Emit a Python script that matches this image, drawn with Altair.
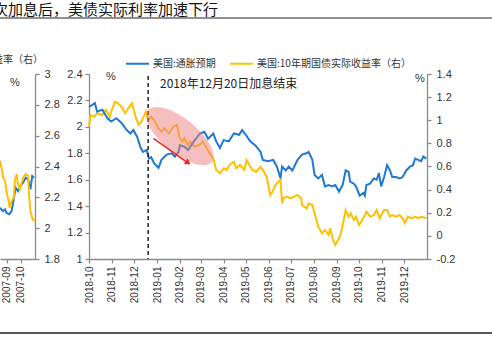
import altair as alt
import pandas as pd

# ---------------- data ----------------
blue_dates = ["2018-10-01","2018-10-09","2018-10-12","2018-10-19","2018-10-26","2018-10-31",
              "2018-11-07","2018-11-14","2018-11-21","2018-11-26","2018-11-30","2018-12-05",
              "2018-12-10","2018-12-13","2018-12-18","2018-12-21","2018-12-24","2018-12-28",
              "2019-01-03","2019-01-07","2019-01-14","2019-01-21","2019-01-25","2019-01-30",
              "2019-02-01","2019-02-07","2019-02-12","2019-02-21","2019-02-28","2019-03-06",
              "2019-03-11","2019-03-18","2019-03-22","2019-03-27","2019-04-01","2019-04-08",
              "2019-04-15","2019-04-22","2019-04-26","2019-05-01","2019-05-07","2019-05-14",
              "2019-05-21","2019-05-24","2019-05-31","2019-06-07","2019-06-12","2019-06-17",
              "2019-06-19","2019-06-24","2019-06-28","2019-07-03","2019-07-10","2019-07-16",
              "2019-07-22","2019-07-25","2019-07-30","2019-08-02","2019-08-07","2019-08-12",
              "2019-08-16","2019-08-21","2019-08-26","2019-08-30","2019-09-04","2019-09-09",
              "2019-09-13","2019-09-17","2019-09-19","2019-09-24","2019-09-27","2019-10-02",
              "2019-10-07","2019-10-09","2019-10-11","2019-10-16","2019-10-21","2019-10-25",
              "2019-10-28","2019-10-31","2019-11-04","2019-11-08","2019-11-12","2019-11-15",
              "2019-11-20","2019-11-25","2019-11-29","2019-12-04","2019-12-09","2019-12-13",
              "2019-12-16","2019-12-20","2019-12-24","2019-12-27","2019-12-31"]
blue_vals = [2.15,2.18,2.115,2.13,2.065,2.04,
             2.065,2.03,1.976,1.95,1.976,1.925,
             1.84,1.81,1.825,1.76,1.77,1.725,
             1.69,1.75,1.79,1.80,1.775,1.81,
             1.86,1.85,1.825,1.90,1.95,1.963,
             1.91,1.95,1.89,1.84,1.90,1.89,
             1.95,1.94,1.976,1.94,1.89,1.86,
             1.81,1.75,1.74,1.75,1.70,1.61,
             1.70,1.67,1.70,1.67,1.75,1.79,
             1.80,1.81,1.75,1.636,1.61,1.636,
             1.55,1.56,1.55,1.56,1.51,1.56,
             1.67,1.66,1.585,1.57,1.55,1.48,
             1.50,1.48,1.56,1.57,1.61,1.60,
             1.65,1.55,1.62,1.71,1.67,1.62,
             1.62,1.61,1.62,1.67,1.70,1.71,
             1.76,1.75,1.74,1.775,1.76]

gold_dates = ["2018-10-01","2018-10-03","2018-10-08","2018-10-12","2018-10-19","2018-10-24",
              "2018-10-29","2018-10-31","2018-11-05","2018-11-09","2018-11-14","2018-11-19",
              "2018-11-23","2018-11-28","2018-12-03","2018-12-07","2018-12-11","2018-12-17",
              "2018-12-20","2018-12-24","2018-12-28","2019-01-03","2019-01-07","2019-01-11",
              "2019-01-17","2019-01-23","2019-01-28","2019-01-31","2019-02-04","2019-02-07",
              "2019-02-12","2019-02-15","2019-02-21","2019-02-28","2019-03-04","2019-03-08",
              "2019-03-13","2019-03-18","2019-03-22","2019-03-27","2019-04-01","2019-04-05",
              "2019-04-09","2019-04-15","2019-04-18","2019-04-23","2019-04-29","2019-05-02",
              "2019-05-07","2019-05-10","2019-05-15","2019-05-21","2019-05-24","2019-05-29",
              "2019-06-03","2019-06-06","2019-06-10","2019-06-14","2019-06-17","2019-06-19",
              "2019-06-21","2019-06-25","2019-07-01","2019-07-05","2019-07-10","2019-07-15",
              "2019-07-16","2019-07-22","2019-07-25","2019-07-30","2019-08-02","2019-08-07",
              "2019-08-12","2019-08-16","2019-08-21","2019-08-23","2019-08-27","2019-08-30",
              "2019-09-04","2019-09-06","2019-09-10","2019-09-13","2019-09-17","2019-09-20",
              "2019-09-24","2019-09-27","2019-10-01","2019-10-04","2019-10-09","2019-10-11",
              "2019-10-16","2019-10-21","2019-10-25","2019-10-29","2019-11-04","2019-11-08",
              "2019-11-12","2019-11-15","2019-11-20","2019-11-25","2019-11-29","2019-12-02",
              "2019-12-06","2019-12-11","2019-12-16","2019-12-20","2019-12-24","2019-12-31"]
gold_vals = [0.944,1.045,1.03,1.06,1.045,1.089,
             1.03,1.074,1.16,1.147,1.117,1.06,
             1.103,1.147,1.03,0.96,0.99,1.074,
             1.002,1.03,1.002,0.93,0.90,0.93,
             0.887,0.944,0.96,0.858,0.815,0.844,
             0.786,0.815,0.771,0.79,0.815,0.771,
             0.714,0.671,0.57,0.541,0.584,0.57,
             0.613,0.641,0.584,0.613,0.57,0.656,
             0.598,0.57,0.555,0.598,0.57,0.512,
             0.353,0.382,0.44,0.468,0.483,0.28,
             0.325,0.339,0.325,0.339,0.353,0.325,
             0.267,0.238,0.28,0.267,0.195,0.08,
             0.022,0.05,0.008,0.065,-0.036,-0.079,
             -0.021,0.008,0.123,0.224,0.166,0.195,
             0.137,0.166,0.094,0.123,0.18,0.209,
             0.166,0.18,0.224,0.152,0.224,0.224,
             0.166,0.18,0.166,0.18,0.152,0.109,
             0.166,0.152,0.166,0.152,0.166,0.152]

prev_blue_dates = ["2007-08-17","2007-08-23","2007-08-28","2007-08-31","2007-09-06","2007-09-11",
                   "2007-09-14","2007-09-20","2007-09-25","2007-09-30","2007-10-06","2007-10-12",
                   "2007-10-17","2007-10-22","2007-10-26","2007-10-30"]
prev_blue_vals = [2.133,2.11,2.122,2.10,2.09,2.11,
                  2.155,2.263,2.24,2.274,2.295,2.327,
                  2.317,2.252,2.338,2.327]
prev_gold_dates = ["2007-08-17","2007-08-21","2007-08-24","2007-08-28","2007-08-31","2007-09-04",
                   "2007-09-07","2007-09-11","2007-09-16","2007-09-18","2007-09-22","2007-09-25",
                   "2007-09-29","2007-10-03","2007-10-08","2007-10-12","2007-10-17","2007-10-19",
                   "2007-10-22","2007-10-27","2007-11-01"]
prev_gold_vals = [2.436,2.38,2.327,2.306,2.24,2.187,
                  2.133,2.176,2.198,2.306,2.35,2.285,
                  2.252,2.295,2.338,2.35,2.338,2.22,
                  2.111,2.057,2.046]

series_names = ["美国:通胀预期", "美国:10年期国债实际收益率（右）"]
series_colors = ["#1F78D2", "#FFC000"]

main_months = [(2018, 10), (2018, 11), (2018, 12), (2019, 1), (2019, 2), (2019, 3), (2019, 4),
               (2019, 5), (2019, 6), (2019, 7), (2019, 8), (2019, 9), (2019, 10), (2019, 11),
               (2019, 12)]
prev_months = [(2007, 9), (2007, 10)]
left_ticks = [1, 1.2, 1.4, 1.6, 1.8, 2, 2.2, 2.4]
right_ticks = [-0.2, 0, 0.2, 0.4, 0.6, 0.8, 1, 1.2, 1.4]
prev_ticks = [1.8, 2, 2.2, 2.4, 2.6, 2.8, 3]

hike_end_date = ["2018-12-20"]
ellipse_center = {"date": ["2019-02-01"], "value": [1.93]}
arrow = {"date": ["2018-12-27"], "value": [1.913], "date2": ["2019-02-13"], "value2": [1.722]}
arrow_tip = {"date": ["2019-02-12"], "value": [1.728]}

title_text = "次加息后，美债实际利率加速下行"
note_text = "2018年12月20日加息结束"
prev_legend_text = "收益率（右）"

assert len(blue_dates) == len(blue_vals)
assert len(gold_dates) == len(gold_vals)
assert len(prev_blue_dates) == len(prev_blue_vals)
assert len(prev_gold_dates) == len(prev_gold_vals)

# ---------------- frames ----------------
df_blue = pd.DataFrame({"date": blue_dates, "value": blue_vals, "series": series_names[0]})
df_gold = pd.DataFrame({"date": gold_dates, "value": gold_vals, "series": series_names[1]})
df_pblue = pd.DataFrame({"date": prev_blue_dates, "value": prev_blue_vals})
df_pgold = pd.DataFrame({"date": prev_gold_dates, "value": prev_gold_vals})

W, H = 338, 185
PL, PT = 89, 74

def dt(y, m, d=1):
    return alt.DateTime(year=y, month=m, date=d)

x_main = alt.Scale(domain=[dt(2018, 10), dt(2020, 1)])
x_prev = alt.Scale(domain=[dt(2007, 8, 17), dt(2007, 11, 1)], range=[-89, -54])
y_left = alt.Scale(domain=[1, 2.4])
y_right = alt.Scale(domain=[-0.2, 1.4])
y_prev = alt.Scale(domain=[1.8, 3])

color = alt.Color(
    "series:N",
    scale=alt.Scale(domain=series_names, range=series_colors),
    title=None,
    legend=alt.Legend(orient="none", legendX=36, legendY=-23, direction="horizontal",
                      symbolType="stroke", symbolSize=529, symbolStrokeWidth=2,
                      labelFontSize=10, labelFont="Noto Sans CJK SC", labelColor="#333",
                      columnPadding=10, labelOffset=3, padding=0),
)

axis_common = dict(labelFont="Liberation Sans", labelColor="#333", domainColor="#8a8a8a",
                   tickColor="#8a8a8a", domainWidth=1.3, tickWidth=1.3, tickSize=4,
                   grid=False, title=None)

x_axis_main = alt.Axis(values=[dt(y, m) for y, m in main_months], format="%Y-%m",
                       labelAngle=-90, labelFontSize=10, labelPadding=3, orient="bottom",
                       **axis_common)
x_axis_prev = alt.Axis(values=[dt(y, m) for y, m in prev_months], format="%Y-%m",
                       labelAngle=-90, labelFontSize=10, labelPadding=3, orient="bottom",
                       **axis_common)
y_axis_left = alt.Axis(values=left_ticks, orient="left", labelFontSize=11, labelPadding=3,
                       labelExpr="datum.value + ''", **axis_common)
y_axis_right = alt.Axis(values=right_ticks, orient="right", labelFontSize=11, labelPadding=5,
                        labelExpr="datum.value + ''", **axis_common)
y_axis_prev = alt.Axis(values=prev_ticks, orient="right", offset=-392, labelFontSize=11,
                       labelPadding=5, labelExpr="datum.value + ''", **axis_common)

gold_line = alt.Chart(df_gold).mark_line(strokeWidth=2).encode(
    x=alt.X("date:T", scale=x_main, axis=None),
    y=alt.Y("value:Q", scale=y_right, axis=y_axis_right),
    color=color,
)
blue_line = alt.Chart(df_blue).mark_line(strokeWidth=2).encode(
    x=alt.X("date:T", scale=x_main, axis=x_axis_main),
    y=alt.Y("value:Q", scale=y_left, axis=y_axis_left),
    color=color,
)
prev_gold = alt.Chart(df_pgold).mark_line(strokeWidth=2, color=series_colors[1], clip=False).encode(
    x=alt.X("date:T", scale=x_prev, axis=x_axis_prev),
    y=alt.Y("value:Q", scale=y_prev, axis=y_axis_prev),
)
prev_blue = alt.Chart(df_pblue).mark_line(strokeWidth=2, color=series_colors[0], clip=False).encode(
    x=alt.X("date:T", scale=x_prev, axis=None),
    y=alt.Y("value:Q", scale=y_prev, axis=None),
)

hike_rule = alt.Chart(pd.DataFrame({"date": hike_end_date})).mark_rule(
    color="#222", strokeWidth=1.5, strokeDash=[4, 3]
).encode(x=alt.X("date:T", scale=x_main, axis=None), y=alt.value(2), y2=alt.value(H))

ellipse = alt.Chart(pd.DataFrame(ellipse_center)).mark_point(
    shape="M -1 0 A 1 0.42 0 1 0 1 0 A 1 0.42 0 1 0 -1 0 Z",
    filled=True, size=6724, angle=39, color="#EE7F7F", opacity=0.5, strokeWidth=0,
).encode(x=alt.X("date:T", scale=x_main, axis=None),
         y=alt.Y("value:Q", scale=y_left, axis=None))

arrow_line = alt.Chart(pd.DataFrame(arrow)).mark_rule(color="#E8262A", strokeWidth=1.5).encode(
    x=alt.X("date:T", scale=x_main, axis=None), x2="date2:T",
    y=alt.Y("value:Q", scale=y_left, axis=None), y2="value2:Q",
)
arrow_head = alt.Chart(pd.DataFrame(arrow_tip)).mark_point(
    shape="triangle-right", filled=True, size=45, angle=35, color="#E8262A", opacity=1,
).encode(x=alt.X("date:T", scale=x_main, axis=None),
         y=alt.Y("value:Q", scale=y_left, axis=None))

def txt(text, x, y, size, align="left", font="Noto Sans CJK SC", color="#222", weight="normal"):
    return alt.Chart(pd.DataFrame({"t": [text]})).mark_text(
        align=align, baseline="middle", fontSize=size, font=font, color=color,
        fontWeight=weight,
    ).encode(text="t:N", x=alt.value(x), y=alt.value(y))

def hline(y, color, width):
    return alt.Chart(pd.DataFrame({"a": [0]})).mark_rule(color=color, strokeWidth=width).encode(
        x=alt.value(-PL), x2=alt.value(492 - PL), y=alt.value(y))

title = txt(title_text, -96, 10 - PT, 15, color="#111")
top_line = hline(18 - PT, "#8f8f8f", 2)
bottom_line = hline(333 - PT, "#555", 2)
prev_leg = txt(prev_legend_text, 43 - PL, 60 - PT, 10, align="right", color="#333")
pct_prev = txt("%", 15 - PL, 83 - PT, 11, align="center", font="Liberation Sans", color="#333")
pct_left = txt("%", 111 - PL, 77 - PT, 11, align="center", font="Liberation Sans", color="#333")
pct_right = txt("%", 420 - PL, 79 - PT, 11, align="center", font="Liberation Sans", color="#333")
note = txt(note_text, 160 - PL, 84 - PT, 12, color="#222")

chart = alt.layer(
    prev_blue, prev_gold, gold_line, blue_line, hike_rule, ellipse, arrow_line, arrow_head,
    title, top_line, bottom_line, prev_leg, pct_prev, pct_left, pct_right, note,
).resolve_scale(
    x="independent", y="independent"
).properties(
    width=W, height=H,
    padding={"left": PL, "top": PT, "right": 492 - PL - W, "bottom": 351 - PT - H},
    autosize=alt.AutoSizeParams(type="none"),
    background="white",
).configure_view(stroke=None)

chart.save("out.html", embed_options={"renderer": "svg", "actions": False})
